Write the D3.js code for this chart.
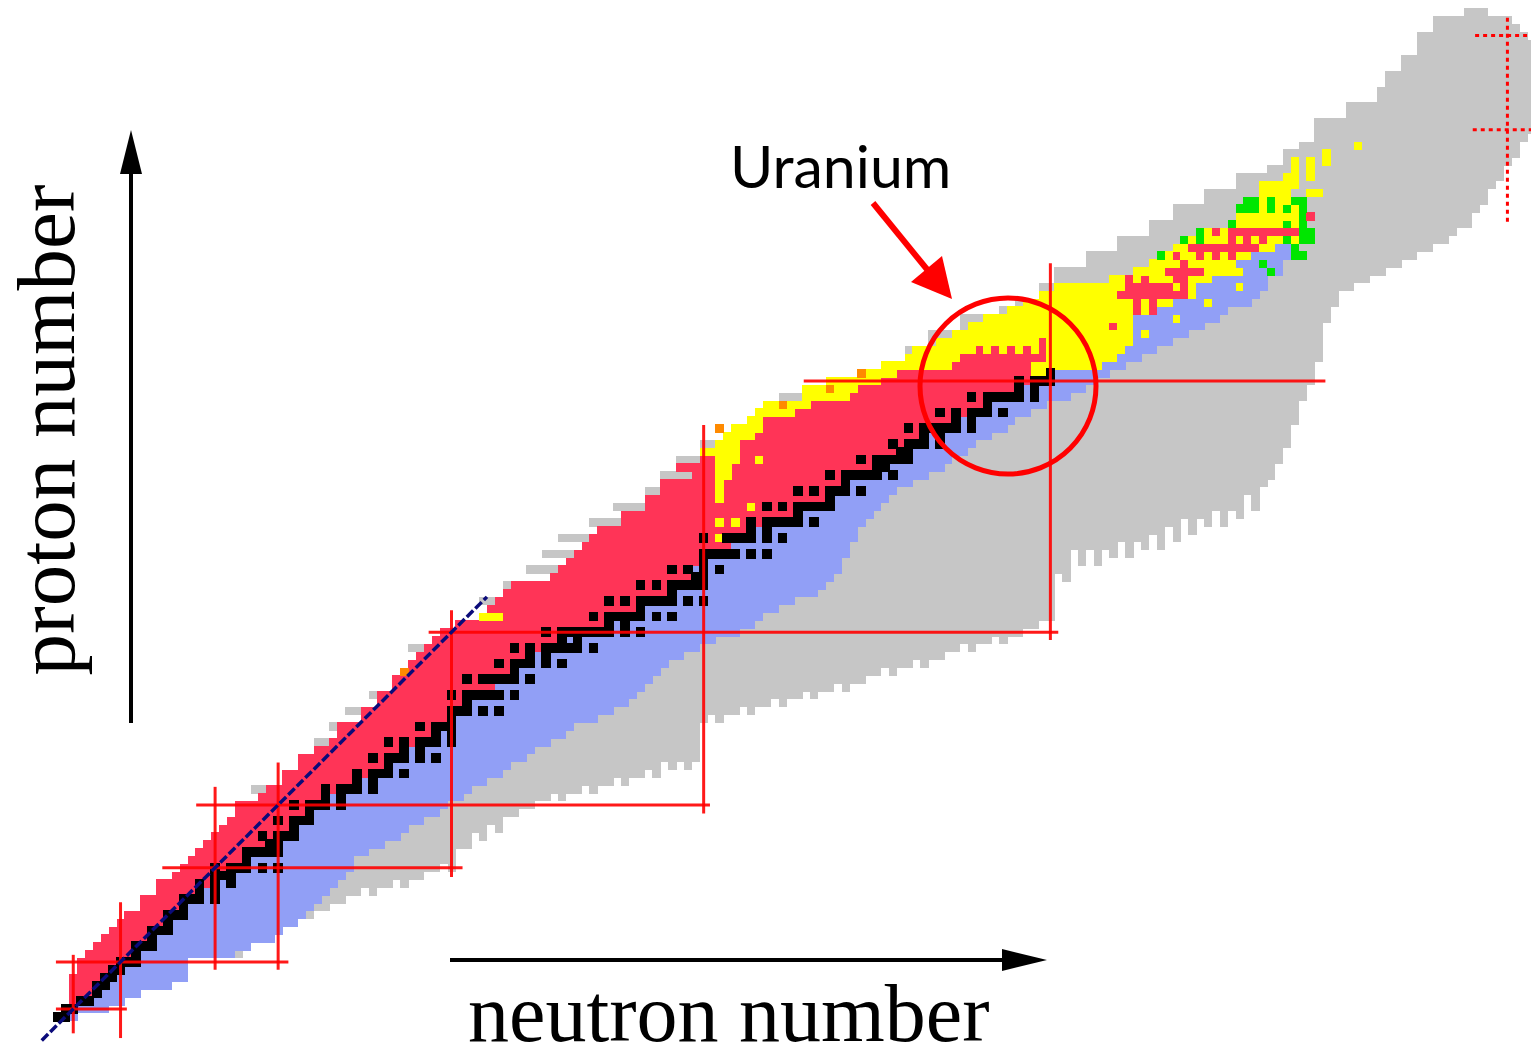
<!DOCTYPE html>
<html><head><meta charset="utf-8">
<script src="https://cdn.jsdelivr.net/npm/d3@7"></script>
<style>html,body{margin:0;padding:0;background:#fff;} svg{display:block;}</style>
</head><body>
<svg id="chart" width="1531" height="1059"></svg>
<script>
// ---------------- DATA ----------------
// Light rows Z = 1..83 : first colored N (proton-rich edge) and last colored N (neutron-rich edge)
const firstN = [0,1,2,2,2,2,3,3,4,5, 6,7,8,9,11,11,13,13,15,16, 17,18,19,20,21,22,23,23,26,27,
  29,29,31,31,33,35,36,36,39,39, 41,41,43,43,45,45,46,47,48,49, 51,54,55,56,57,58,63,64,65,66,
  67,68,69,72,72,75,75,77,77,81, 79,82,82,84,85,86,88,89,90,95, 95,98,102];
const lastN = [2,6,8,10,14,16,16,16,22,24, 27,28,30,31,32,33,34,35,36,37, 37,39,41,43,44,46,48,49,51,52,
  54,56,57,59,60,62,64,65,68,70, 72,73,74,75,76,77,79,81,83,86, 88,89,91,93,96,97,98,99,99,100,
  100,101,101,102,103,104,105,106,108,110, 112,113,115,116,118,120,121,123,125,128, 130,131,133];
// stable nuclides [Z, [N...]]
const stable = [[1,[0,1]],[2,[1,2]],[3,[3,4]],[4,[5]],[5,[5,6]],[6,[6,7]],[7,[7,8]],[8,[8,9,10]],[9,[10]],
 [10,[10,11,12]],[11,[12]],[12,[12,13,14]],[13,[14]],[14,[14,15,16]],[15,[16]],[16,[16,17,18,20]],
 [17,[18,20]],[18,[18,20,22]],[19,[20,21,22]],[20,[20,22,23,24,26,28]],[21,[24]],[22,[24,25,26,27,28]],
 [23,[27,28]],[24,[26,28,29,30]],[25,[30]],[26,[28,30,31,32]],[27,[32]],[28,[30,32,33,34,36]],
 [29,[34,36]],[30,[34,36,37,38,40]],[31,[38,40]],[32,[38,40,41,42,44]],[33,[42]],[34,[40,42,43,44,46,48]],
 [35,[44,46]],[36,[42,44,46,47,48,50]],[37,[48,50]],[38,[46,48,49,50]],[39,[50]],[40,[50,51,52,54,56]],
 [41,[52]],[42,[50,52,53,54,55,56,58]],[44,[52,54,55,56,57,58,60]],[45,[58]],[46,[56,58,59,60,62,64]],
 [47,[60,62]],[48,[58,60,62,63,64,65,66,68]],[49,[64,66]],[50,[62,64,65,66,67,68,69,70,72,74]],
 [51,[70,72]],[52,[68,70,71,72,73,74,76,78]],[53,[74]],[54,[70,72,74,75,76,77,78,80,82]],[55,[78]],
 [56,[74,76,78,79,80,81,82]],[57,[81,82]],[58,[78,80,82,84]],[59,[82]],[60,[82,83,84,85,86,88,90]],
 [62,[82,85,86,87,88,90,92]],[63,[88,90]],[64,[88,90,91,92,93,94,96]],[65,[94]],[66,[90,92,94,95,96,97,98]],
 [67,[98]],[68,[94,96,98,99,100,102]],[69,[100]],[70,[98,100,101,102,103,104,106]],[71,[104,105]],
 [72,[102,104,105,106,107,108]],[73,[107,108]],[74,[106,108,109,110,112]],[75,[110,112]],
 [76,[108,110,111,112,113,114,116]],[77,[114,116]],[78,[112,114,116,117,118,120]],[79,[118]],
 [80,[116,118,119,120,121,122,124]],[81,[122,124]],[82,[122,124,125,126]],[83,[126]]];
// elements without stable isotopes: last beta+ N
const unstableSplit = [[43,55],[61,85]];
// gray (unmeasured) bands on the proton-rich side: [Z, first gray N]
const protonSideGray = [[30,25],[36,33],[38,35],[40,37],[42,40],[48,45],[54,54],[56,57],[58,60],[60,62],
 [62,64],[64,68],[66,71],[68,75],[70,77],[72,79],[74,82],[80,92]];
// alpha emitters in the light rows [Z, N from, N to]
const alphaRuns = [[52,54,56],[62,84,84],[64,84,84],[64,86,86],[66,88,88],[67,84,84],[68,84,84],[69,84,84],
 [70,84,85],[71,84,85],[72,84,86],[72,89,89],[73,82,86],[74,84,86],[75,85,88],[76,86,89],[77,88,89],
 [78,89,93],[79,90,95],[80,95,100],[81,95,101],[82,98,104],[83,102,106],[83,124,125]];
// mixed alpha / beta+ cells [Z, N]
const mixedCells = [[45,44],[76,84],[79,92],[81,98],[83,102]];
// heavy rows: colour runs y=alpha r=beta+ b=beta- g=fission
const heavyRows = [
 [84,"y105-113 r114-123 y124-132 b133-135"],
 [85,"y108-114 r115-125 y126-134 b135-137"],
 [86,"y109-116 r117 y118 r119 y120 r121 y122 r123 y124 r125 y126-135 b136-139"],
 [87,"y112-124 r125 y126-136 b137-141"],
 [88,"y114-136 b137 y138 b139-143"],
 [89,"y116-133 r134 y135-136 b137-145"],
 [90,"y118-136 b137-141 y142 b143-147"],
 [91,"y121-136 r137 y138 r139 b140-148"],
 [92,"y123-136 r137 y138 r139 y140-141 b142-145 y146 b147-151"],
 [93,"y125-134 r135-143 y144 b145-152"],
 [94,"y127-135 r136-141 y142 r143 y144 b145-149 y150 b151-153"],
 [95,"y134-135 r136 y137 r138 y139-141 r142-143 y144-146 b147-153"],
 [96,"y137-140 r141-145 y146-150 b151-153 g154 b155"],
 [97,"y139-142 r143 y144-149 b150-152 g153 b154-155"],
 [98,"g140 y141 r142 y143-144 r145 y146 r147 y148 r149 y150-151 b152-156 g157-158"],
 [99,"y142-143 r144-152 y153-154 b155-156 g157"],
 [100,"g143 y144 g145 y146-148 r149 y150 r151 y152 r153 y154-155 g156 y157 g158-159"],
 [101,"g145 y146 r147 y148 r149-157 g158-159"],
 [102,"g149 y150-155 g156 y157 g158"],
 [103,"y150-157 g158 r159"],
 [104,"g150-152 y153 g154 y155 g156 y157 g158"],
 [105,"g151-152 y153 g154 y155-156 g157-158"],
 [106,"y153-156 y159-160"],
 [107,"y153-157"],
 [108,"y156-157 y159"],
 [109,"y157 y159"],
 [110,"y157 y159 y161"],
 [111,"y161"],
 [112,"y165"]];
// gray predicted region, per neutron number: lowest Z (N = 23..187)
const grayFromN = 23;
const grayBottom = [9,10,11,11,12,12,13,13,14,14,15,15,16,16,17,17,18,17,18,18,19,18,19,19,20,20,21,20,
 23,23,25,24,26,25,27,27,28,28,29,29,30,29,30,30,31,30,31,31,32,31,32,32,33,32,34,33,34,33,34,
 39,40,39,40,40,41,40,41,41,42,41,42,42,43,42,43,43,44,43,44,44,45,45,46,45,46,46,47,46,47,47,48,48,49,
 48,49,49,50,49,50,50,51,51,52,52,
 58,57,61,59,61,59,61,60,62,60,62,61,63,61,64,62,65,63,65,64,66,64,66,65,68,66,69,70,72,74,77,80,82,85,
 90,92,94,94,95,95,96,96,97,97,98,98,99,99,100,100,101,102,102,104,105,107,108,110,111,113,114];
// highest Z of gray region for the heavy columns (N = 108..187)
const grayTopFromN = 108;
const grayTop = [86,86,86,88,88,88,88,90,90,90,90,90,91,91,92,92,92,94,94,96,96,96,96,98,98,98,98,
 100,100,100,100,102,102,102,104,104,104,104,106,106,106,106,108,108,108,108,109,109,111,111,112,112,
 115,115,115,115,117,117,117,117,119,121,121,123,123,126,126,128,128,128,128,129,129,129,128,128,128,127,126,125];
// magic-number lines [value, from, to] (in nucleon units)
const magicZ = [[2,-0.2,8.8],[8,-0.2,29.3],[20,13.3,51.4],[28,17.6,82.8],[50,47.1,127],[82,94.7,160.9]];
const magicN = [[2,-1.1,8.9],[8,-1.7,15.6],[20,7.0,30.3],[28,7.0,33.4],[50,18.8,52.8],[82,26.9,76.4],[126,49,97]];
const predictedZ = [[126,179.9,188],[114,179.6,188]];
const predictedN = [[184,102.3,128.6]];
const nEqualsZ = [-2, 54.5];

// ---------------- DRAWING ----------------
const CW = 7.88, CH = 7.85;
const xN = d3.scaleLinear().domain([0,184]).range([57.5, 57.5 + 184*CW]);
const yZ = d3.scaleLinear().domain([0,126]).range([1024.7, 1024.7 - 126*CH]);
const colors = {r:"#ff3457", b:"#919ff6", k:"#000000", y:"#ffff00", g:"#00e600", o:"#ff8a00", gray:"#c6c6c6"};
const svg = d3.select("#chart");
const gCells = svg.append("g").attr("shape-rendering", "crispEdges");

// lookup for light rows
const stableMap = new Map(stable);
const splitMap = new Map(unstableSplit);
function coveredRow(z, n){ return z>=1 && z<=83 && n>=firstN[z-1] && n<=lastN[z-1]; }

// gray columns
const grayCols = [];
grayBottom.forEach((zb, i) => {
  const n = grayFromN + i;
  let zt;
  if (n >= grayTopFromN) zt = grayTop[n - grayTopFromN];
  else { zt = zb; while (!coveredRow(zt+1, n) && zt < 130) zt++; }
  if (zt >= zb) grayCols.push({n, zb, zt});
});
gCells.selectAll("rect.gcol").data(grayCols).join("rect").attr("class","gcol")
  .attr("x", d => xN(d.n) - CW/2).attr("width", CW + 0.5)
  .attr("y", d => yZ(d.zt) - CH/2).attr("height", d => yZ(d.zb) - yZ(d.zt) + CH + 0.5)
  .attr("fill", colors.gray);

// proton side gray bands
gCells.selectAll("rect.gstreak").data(protonSideGray).join("rect").attr("class","gstreak")
  .attr("x", d => xN(d[1]) - CW/2).attr("width", d => xN(firstN[d[0]-1]) - xN(d[1]) + 0.5)
  .attr("y", d => yZ(d[0]) - CH/2).attr("height", CH + 0.5).attr("fill", colors.gray);

// light rows -> runs
const runs = [];
const blacks = [];
for (let z = 1; z <= 83; z++) {
  const st = stableMap.get(z) || [];
  const lo = st.length ? d3.min(st) : null, hi = st.length ? d3.max(st) : null;
  const mid = st.length ? (lo + hi) / 2 : splitMap.get(z) + 0.5;
  let cur = null;
  for (let n = firstN[z-1]; n <= lastN[z-1]; n++) {
    let c;
    if (st.includes(n)) { c = "k"; blacks.push({z, n}); }
    else c = n < mid ? "r" : "b";
    if (cur && cur.c === c && cur.n1 === n - 1) cur.n1 = n;
    else { cur = {z, c, n0: n, n1: n}; runs.push(cur); }
  }
}
alphaRuns.forEach(d => runs.push({z:d[0], c:"y", n0:d[1], n1:d[2]}));
mixedCells.forEach(d => runs.push({z:d[0], c:"o", n0:d[1], n1:d[1]}));
heavyRows.forEach(([z, s]) => {
  s.split(" ").forEach(tok => {
    const m = tok.match(/^([a-z])(\d+)(?:-(\d+))?$/);
    runs.push({z, c:m[1], n0:+m[2], n1: m[3] ? +m[3] : +m[2]});
  });
});
gCells.selectAll("rect.run").data(runs).join("rect").attr("class","run")
  .attr("x", d => xN(d.n0) - CW/2).attr("width", d => xN(d.n1) - xN(d.n0) + CW + 0.5)
  .attr("y", d => yZ(d.z) - CH/2).attr("height", CH + 0.5)
  .attr("fill", d => d.c === "k" ? colors.r : colors[d.c])
  .attr("fill-opacity", d => d.c === "k" ? 0 : 1);

// stable squares (drawn slightly larger)
const S = CW * 1.22;
gCells.selectAll("rect.stable").data(blacks).join("rect").attr("class","stable")
  .attr("x", d => xN(d.n) - S/2).attr("y", d => yZ(d.z) - S/2)
  .attr("width", S).attr("height", S).attr("fill", colors.k);

// magic lines
const gL = svg.append("g").attr("stroke", "#ff0000").attr("stroke-width", 3).attr("stroke-opacity", 0.9);
gL.selectAll("line.mz").data(magicZ).join("line")
  .attr("x1", d => xN(d[1])).attr("x2", d => xN(d[2])).attr("y1", d => yZ(d[0])).attr("y2", d => yZ(d[0]));
gL.selectAll("line.mn").data(magicN).join("line")
  .attr("x1", d => xN(d[0])).attr("x2", d => xN(d[0])).attr("y1", d => yZ(d[1])).attr("y2", d => yZ(d[2]));
const gD = svg.append("g").attr("stroke", "#ff0000").attr("stroke-width", 3).attr("stroke-dasharray", "4,4");
gD.selectAll("line.pz").data(predictedZ).join("line")
  .attr("x1", d => xN(d[1])).attr("x2", d => xN(d[2])).attr("y1", d => yZ(d[0])).attr("y2", d => yZ(d[0]));
gD.selectAll("line.pn").data(predictedN).join("line")
  .attr("x1", d => xN(d[0])).attr("x2", d => xN(d[0])).attr("y1", d => yZ(d[1])).attr("y2", d => yZ(d[2]));

// N = Z line
svg.append("line").attr("x1", xN(nEqualsZ[0])).attr("y1", yZ(nEqualsZ[0]))
  .attr("x2", xN(nEqualsZ[1])).attr("y2", yZ(nEqualsZ[1]))
  .attr("stroke", "#0b0b7a").attr("stroke-width", 3.5).attr("stroke-dasharray", "9,3");

// circle around the end of the stable line
svg.append("circle").attr("cx", 1008).attr("cy", 386).attr("r", 88)
  .attr("fill", "none").attr("stroke", "#ff0000").attr("stroke-width", 5);

// red arrow
svg.append("line").attr("x1", 873).attr("y1", 203).attr("x2", 930).attr("y2", 273)
  .attr("stroke", "#ff0000").attr("stroke-width", 6);
svg.append("path").attr("d", "M952,299 L911,282 L942,256 Z").attr("fill", "#ff0000");

// axis arrows
svg.append("line").attr("x1", 131).attr("y1", 723).attr("x2", 131).attr("y2", 165)
  .attr("stroke", "#000").attr("stroke-width", 4);
svg.append("path").attr("d", "M131,130 L120,174 L142,174 Z").attr("fill", "#000");
svg.append("line").attr("x1", 450).attr("y1", 960).attr("x2", 1005).attr("y2", 960)
  .attr("stroke", "#000").attr("stroke-width", 4);
svg.append("path").attr("d", "M1047,960 L1002,949 L1002,971 Z").attr("fill", "#000");

// texts
svg.append("text").attr("x", 730).attr("y", 188).text("Uranium")
  .attr("font-family", "Lato, 'Open Sans', sans-serif").attr("font-size", 59).attr("fill", "#000");
svg.append("text").attr("transform", "translate(74,430) rotate(-90)").attr("text-anchor", "middle")
  .text("proton number").attr("font-family", "'Liberation Serif', 'Times New Roman', serif")
  .attr("font-size", 83).attr("fill", "#000");
svg.append("text").attr("x", 468).attr("y", 1041).text("neutron number")
  .attr("font-family", "'Liberation Serif', 'Times New Roman', serif").attr("font-size", 82).attr("fill", "#000");
</script>
</body></html>
